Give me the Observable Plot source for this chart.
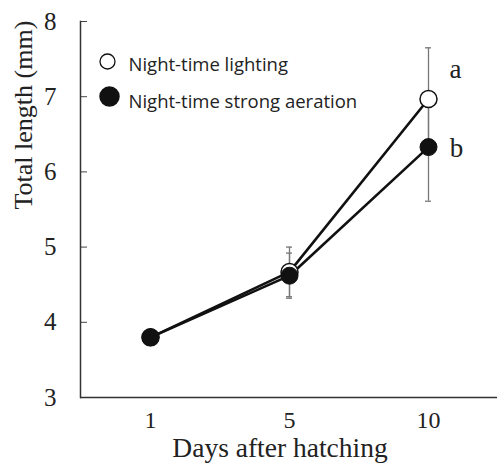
<!DOCTYPE html>
<html>
<head>
<meta charset="utf-8">
<script src="https://cdn.jsdelivr.net/npm/d3@7"></script>
<script src="https://cdn.jsdelivr.net/npm/@observablehq/plot@0.6"></script>
<style>
  html, body { margin: 0; padding: 0; background: #fff; }
  #chart { width: 497px; height: 464px; }
</style>
</head>
<body>
<div id="chart"></div>
<script>
// ---- data ----
const days = [1, 5, 10];
const seriesNames = ["Night-time lighting", "Night-time strong aeration"];
const lightingMean = [3.80, 4.67, 6.97];
const lightingSD = [0.05, 0.33, 0.68];
const aerationMean = [3.80, 4.62, 6.33];
const aerationSD = [0.05, 0.30, 0.72];
const yTicks = [3, 4, 5, 6, 7, 8];
const sigLetters = ["a", "b"];

const rows = [];
days.forEach((d, i) => {
  rows.push({day: d, series: seriesNames[0], len: lightingMean[i], lo: lightingMean[i] - lightingSD[i], hi: lightingMean[i] + lightingSD[i]});
});
days.forEach((d, i) => {
  rows.push({day: d, series: seriesNames[1], len: aerationMean[i], lo: aerationMean[i] - aerationSD[i], hi: aerationMean[i] + aerationSD[i]});
});
const lighting = rows.filter(r => r.series === seriesNames[0]);
const aeration = rows.filter(r => r.series === seriesNames[1]);
const lastDay = days[days.length - 1];
const letterRows = [
  {day: lastDay, len: lightingMean[2], label: sigLetters[0]},
  {day: lastDay, len: aerationMean[2], label: sigLetters[1]}
];

const serif = "'Liberation Serif', 'Times New Roman', serif";
const sans = "'Open Sans', 'Noto Sans', sans-serif";
const errColor = "#777";

const chart = Plot.plot({
  width: 497,
  height: 464,
  marginLeft: 80,
  marginRight: 0,
  marginTop: 21,
  marginBottom: 67,
  style: {fontFamily: serif, background: "#fff", color: "#222"},
  x: {type: "point", domain: days, padding: 0.5},
  y: {domain: [3, 8]},
  marks: [
    Plot.axisY(yTicks.filter(t => t > 3), {tickSize: -7, stroke: "#444", text: null}),
    Plot.axisY({ticks: yTicks, tickSize: 0, tickPadding: 24, fontSize: 25, tickFormat: d => String(d), label: null}),
    Plot.axisX({tickSize: 0, tickPadding: 13, fontSize: 24, label: null}),
    Plot.ruleY([3], {stroke: "#333", strokeWidth: 1.5}),
    Plot.frame({anchor: "left", stroke: "#333", strokeWidth: 1.5}),
    // error bars
    Plot.ruleX(rows, {x: "day", y1: "lo", y2: "hi", stroke: errColor, strokeWidth: 1.3}),
    Plot.ruleY(rows, {y: "hi", x1: "day", x2: "day", insetLeft: -3, insetRight: -3, stroke: errColor, strokeWidth: 1.3}),
    Plot.ruleY(rows, {y: "lo", x1: "day", x2: "day", insetLeft: -3, insetRight: -3, stroke: errColor, strokeWidth: 1.3}),
    // lines
    Plot.line(rows, {x: "day", y: "len", z: "series", stroke: "#111", strokeWidth: 2.6}),
    // points
    Plot.dot(lighting, {x: "day", y: "len", r: 8.5, fill: "white", stroke: "#111", strokeWidth: 1.5}),
    Plot.dot(aeration, {x: "day", y: "len", r: 8.5, fill: "#111", stroke: "#111", strokeWidth: 1}),
    // significance letters
    Plot.text(letterRows.slice(0, 1), {x: "day", y: "len", text: "label", dx: 27, dy: -30, fontSize: 27, textAnchor: "middle"}),
    Plot.text(letterRows.slice(1, 2), {x: "day", y: "len", text: "label", dx: 28, dy: 1, fontSize: 27, textAnchor: "middle"}),
    // legend
    Plot.dot([seriesNames[0]], {frameAnchor: "top-left", dx: 27, dy: 40, r: 7.5, fill: "white", stroke: "#111", strokeWidth: 1.3}),
    Plot.dot([seriesNames[1]], {frameAnchor: "top-left", dx: 29, dy: 75, r: 9.5, fill: "#111", stroke: "#111"}),
    Plot.text([seriesNames[0]], {frameAnchor: "top-left", dx: 48, dy: 36, text: d => d, textAnchor: "start", fontSize: 18.5, fontFamily: sans, fill: "#222"}),
    Plot.text([seriesNames[1]], {frameAnchor: "top-left", dx: 48, dy: 73, text: d => d, textAnchor: "start", fontSize: 18.5, fontFamily: sans, fill: "#222"}),
    // axis titles
    Plot.text(["Total length (mm)"], {frameAnchor: "left", text: d => d, rotate: -90, dx: -57, fontSize: 26}),
    Plot.text(["Days after hatching"], {frameAnchor: "bottom", text: d => d, dx: -9, dy: 59, fontSize: 27.5})
  ]
});
document.getElementById("chart").appendChild(chart);
</script>
</body>
</html>
